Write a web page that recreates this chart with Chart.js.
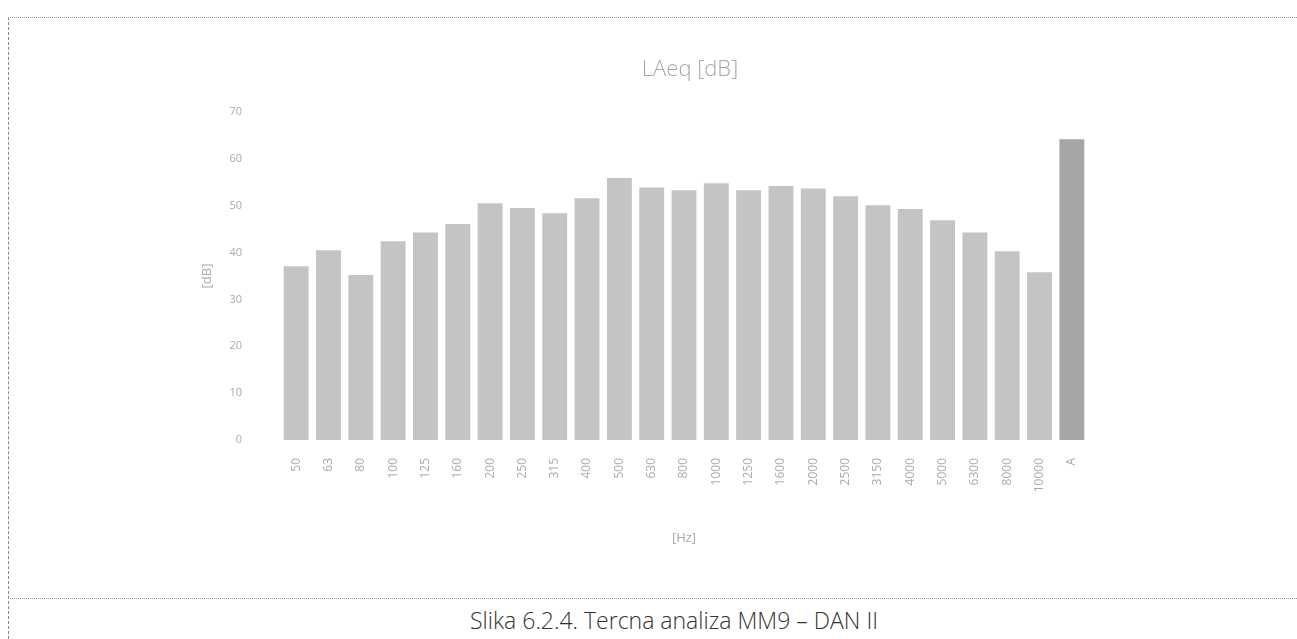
<!DOCTYPE html>
<html lang="hr">
<head>
  <meta charset="UTF-8" />
  <title>Tercna analiza MM9 - DAN II</title>
  <script src="https://cdn.jsdelivr.net/npm/chart.js"></script>
  <style>
    body {
      margin: 0;
      width: 1297px;
      height: 639px;
      background: #fff;
      font-family: 'Open Sans', sans-serif;
      overflow: hidden;
      position: relative;
    }

    /* scanned page frame */
    .frame-left {
      position: absolute;
      left: 8px;
      top: 17px;
      height: 622px;
      border-left: 1px dashed #888;
    }
    .frame-top {
      position: absolute;
      left: 8px;
      top: 17px;
      width: 1289px;
      border-top: 1px dotted #999;
    }
    .frame-bottom {
      position: absolute;
      left: 8px;
      top: 598px;
      width: 1289px;
      border-top: 1px dotted #999;
    }

    .chart-box {
      position: absolute;
      left: 10px;
      top: 20px;
      width: 1280px;
      height: 570px;
    }

    .chart-title {
      position: absolute;
      top: 52px;
      left: 540px;
      width: 300px;
      text-align: center;
      font-size: 22px;
      font-weight: 300;
      color: #a8a8a8;
    }

    .caption {
      position: absolute;
      top: 604px;
      left: 0;
      width: 1348px;
      text-align: center;
      font-size: 23px;
      font-weight: 300;
      color: #333;
    }
  </style>
</head>
<body>
  <div class="frame-left"></div>
  <div class="frame-top"></div>
  <div class="frame-bottom"></div>

  <div class="chart-box">
    <canvas id="barChart"></canvas>
  </div>

  <div class="chart-title">LAeq [dB]</div>
  <div class="caption">Slika 6.2.4. Tercna analiza MM9 – DAN II</div>

  <script>
    // third-octave bands + A-weighted total
    const bands = ['50', '63', '80', '100', '125', '160', '200', '250', '315', '400', '500', '630',
                   '800', '1000', '1250', '1600', '2000', '2500', '3150', '4000', '5000', '6300', '8000', '10000', 'A'];
    const levels = [37.1, 40.5, 35.2, 42.4, 44.3, 46.1, 50.5, 49.5, 48.4, 51.6, 55.9, 53.9,
                    53.3, 54.8, 53.3, 54.2, 53.7, 52.0, 50.1, 49.3, 46.9, 44.3, 40.3, 35.8, 64.2];
    const yTicks = [0, 10, 20, 30, 40, 50, 60, 70];

    const barColors = bands.map(b => b === 'A' ? '#a6a6a6' : '#c4c4c4');

    new Chart(document.getElementById('barChart').getContext('2d'), {
      type: 'bar',
      data: {
        labels: bands,
        datasets: [{
          label: 'LAeq [dB]',
          data: levels,
          backgroundColor: barColors,
          borderWidth: 0,
          barPercentage: 0.77,
          categoryPercentage: 1
        }]
      },
      options: {
        responsive: true,
        maintainAspectRatio: false,
        animation: false,
        layout: {
          padding: { left: 185, right: 202, top: 92, bottom: 40 }
        },
        plugins: {
          legend: { display: false },
          tooltip: { enabled: false }
        },
        scales: {
          x: {
            grid: { display: false },
            border: { display: false },
            ticks: {
              color: '#aaa',
              font: { family: 'Open Sans', size: 12 },
              minRotation: 90,
              maxRotation: 90,
              padding: 10,
              autoSkip: false
            },
            title: {
              display: true,
              text: '[Hz]',
              color: '#aaa',
              font: { family: 'Open Sans', size: 13 }
            },
            afterFit: (s) => { s.height = 110; }
          },
          y: {
            min: 0,
            max: 70,
            grid: { display: false },
            border: { display: false },
            afterBuildTicks: (s) => { s.ticks = yTicks.map(v => ({ value: v })); },
            ticks: {
              color: '#aaa',
              font: { family: 'Open Sans', size: 11 },
              padding: 30
            },
            title: {
              display: true,
              text: '[dB]',
              color: '#aaa',
              font: { family: 'Open Sans', size: 13 }
            },
            afterFit: (s) => { s.width = 85; }
          }
        }
      }
    });
  </script>
</body>
</html>
